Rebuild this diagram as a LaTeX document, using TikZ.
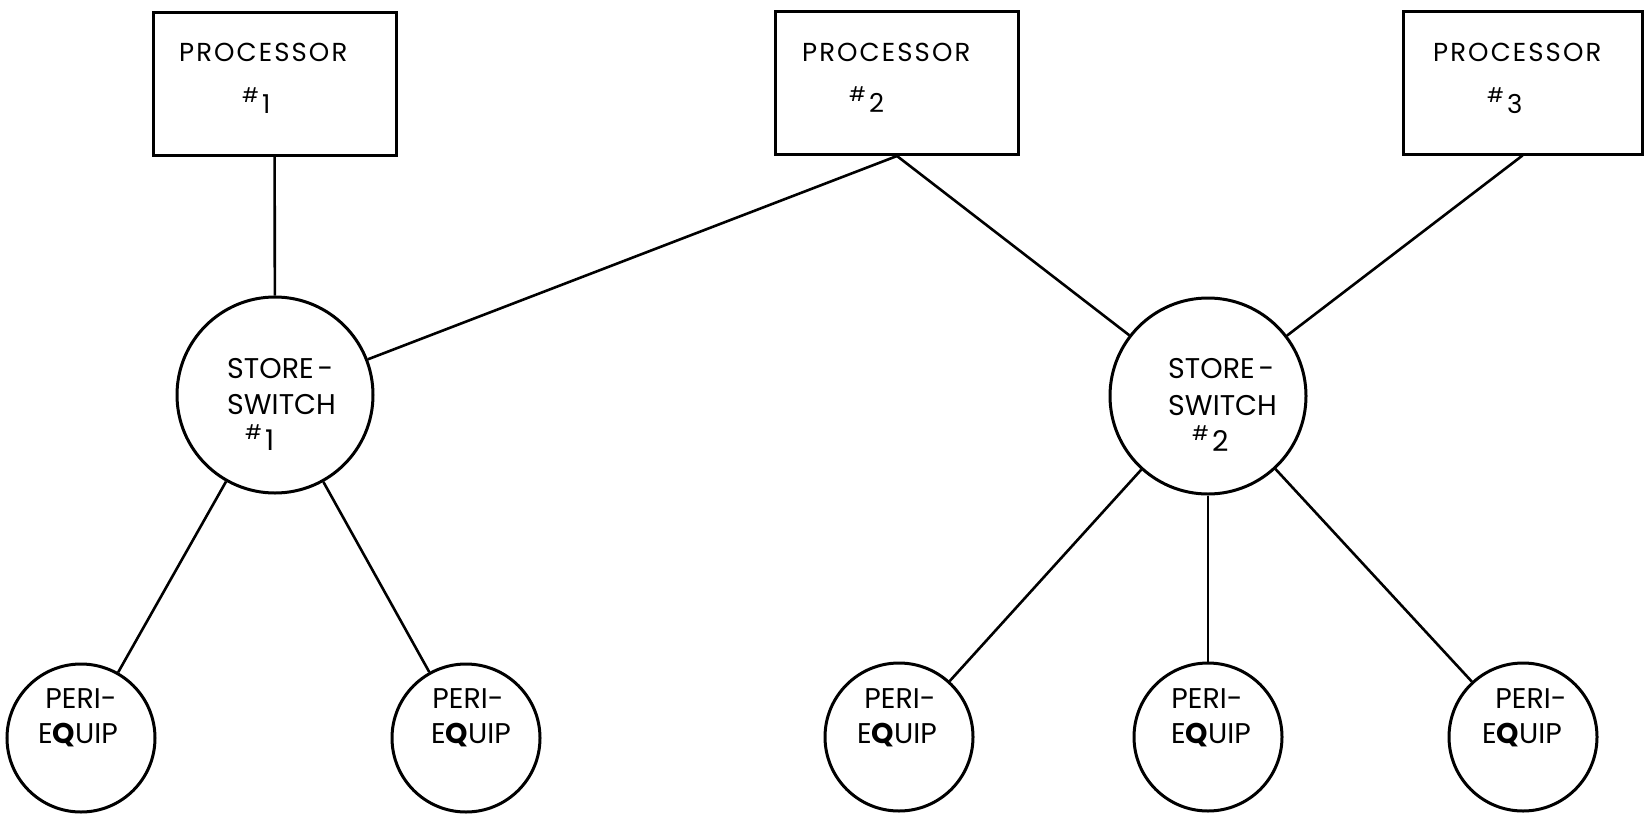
\documentclass[tikz,border=0pt]{standalone}
\usepackage{fontspec}
\setmainfont{Poppins}

% small raised number sign followed by the digit
\newcommand\hashmark[1]{\raisebox{11pt}{\fontsize{20}{20}\selectfont\#}\hspace{3pt}#1}

\tikzset{
  procbox/.style={draw, line width=3pt, minimum width=243pt, minimum height=143pt, inner sep=0pt},
  storesw/.style={draw, circle, line width=3pt, minimum size=196pt, inner sep=0pt},
  peri/.style={draw, circle, line width=3pt, minimum size=148pt, inner sep=0pt},
  link/.style={line width=2.6pt},
  ptxt/.style={inner sep=0pt, anchor=base west, font=\fontsize{26}{30}\selectfont\addfontfeature{LetterSpace=8}},
  stxt/.style={inner sep=0pt, anchor=base west, font=\fontsize{28.5}{32}\selectfont},
  etxt/.style={inner sep=0pt, anchor=base, font=\fontsize{28.5}{32}\selectfont},
}

\begin{document}
\begin{tikzpicture}[x=1pt, y=-1pt]
\useasboundingbox (0,0) rectangle (1646,814);

% processors
\node[procbox] (p1) at (274.5,83.5) {};
\node[procbox] (p2) at (897,83) {};
\node[procbox, minimum width=239pt] (p3) at (1522.5,82.5) {};
\node[ptxt] (p1a) at (179,61) {PROCESSOR};
\node[ptxt] (p1b) at (242,113) {\hashmark{1}};
\node[ptxt] (p2a) at (802,61) {PROCESSOR};
\node[ptxt] (p2b) at (849,112) {\hashmark{2}};
\node[ptxt] (p3a) at (1433,61) {PROCESSOR};
\node[ptxt] (p3b) at (1487,113) {\hashmark{3}};

% store-switches
\node[storesw] (s1) at (275,395) {};
\node[storesw] (s2) at (1208,396) {};
\node[stxt] (s1a) at (227,378) {STORE\hspace{4pt}-};
\node[stxt] (s1b) at (227,414) {SWITCH};
\node[stxt] (s1c) at (245,450) {\hashmark{1}};
\node[stxt] (s2a) at (1168,378) {STORE\hspace{4pt}-};
\node[stxt] (s2b) at (1168,415) {SWITCH};
\node[stxt] (s2c) at (1192,451) {\hashmark{2}};

% peripheral equipment
\node[peri] (e1) at (81,738) {};
\node[peri] (e2) at (466,738) {};
\node[peri] (e3) at (899,737) {};
\node[peri] (e4) at (1208,737) {};
\node[peri] (e5) at (1523,737) {};
\foreach \e/\xa/\xb in {e1/81/78, e2/468/471, e3/900/897, e4/1207/1211, e5/1531/1522}{
  \node[etxt] (\e a) at (\xa,708) {PERI-};
  \node[etxt] (\e b) at (\xb,743) {E\textbf{Q}UIP};
}

% connections
\draw[link] (p1) -- (s1);
\draw[link] (p2.south) -- (s1);
\draw[link] (p2.south) -- (s2);
\draw[link] (p3.south) -- (s2);
\draw[link] (s1) -- (e1);
\draw[link] (s1) -- (e2);
\draw[link] (s2) -- (e3);
\draw[link] (s2) -- (e4);
\draw[link] (s2) -- (e5);
\end{tikzpicture}
\end{document}
